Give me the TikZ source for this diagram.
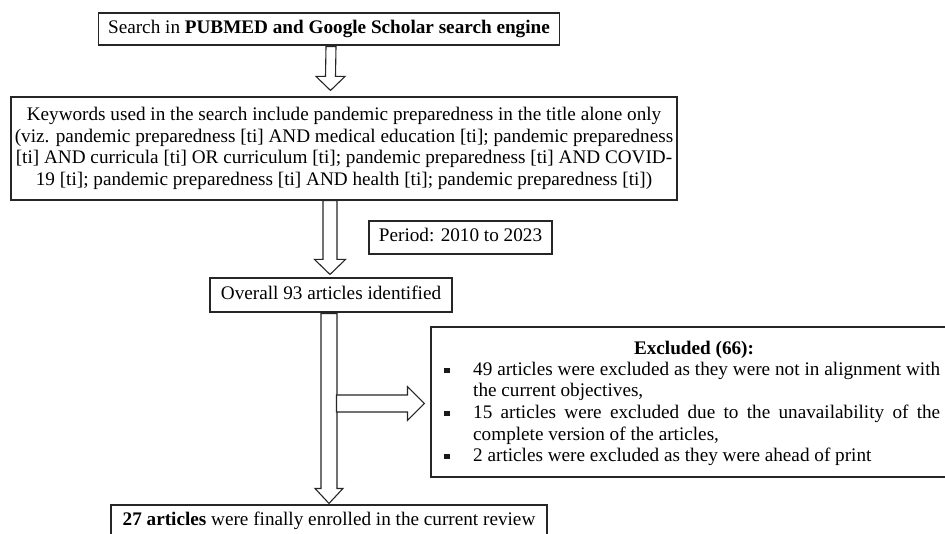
\documentclass[tikz,border=0pt]{standalone}
\usepackage{fontspec}
\setmainfont{Liberation Serif}
\usetikzlibrary{calc}
\tikzset{
  box/.style={draw=black!85, line width=1.1pt, fill=white, inner sep=0pt, align=center,
    font=\fontsize{19.2pt}{21.7pt}\selectfont},
  one/.style={text height=13.2pt, text depth=4.3pt},
  exl/.style={inner sep=0pt, anchor=base west, font=\fontsize{19.2pt}{21.7pt}\selectfont},
  blk/.style={draw=black!85, line width=1.1pt, fill=white, line join=miter},
}
\newcommand\blkdown[5]{%
  \draw[blk] ($(#1)+(-#3,0)$) -- ($(#2)+(-#3,-#5)$) -- ($(#2)+(-#4,-#5)$) -- (#2)
    -- ($(#2)+(#4,-#5)$) -- ($(#2)+(#3,-#5)$) -- ($(#1)+(#3,0)$) -- cycle;}
\newcommand\blkright[5]{%
  \draw[blk] ($(#1)+(0,-#3)$) -- ($(#2)+(-#5,-#3)$) -- ($(#2)+(-#5,-#4)$) -- (#2)
    -- ($(#2)+(-#5,#4)$) -- ($(#2)+(-#5,#3)$) -- ($(#1)+(0,#3)$) -- cycle;}
\newcommand\sqb[1]{\fill[black!90] ($(#1.base west)+(-29,-7.6)$) rectangle ++(5.5,5.5);}
\begin{document}
\begin{tikzpicture}[x=1pt,y=-1pt]
\useasboundingbox (0,0) rectangle (945,534);
\clip (0,0) rectangle (945,534);

\node[box, one, minimum width=461pt, minimum height=32pt] (b1) at (329,29)
  {Search in \textbf{PUBMED and Google Scholar search engine}};
\node[box, minimum width=666pt, minimum height=103pt] (b2) at (344,148.5)
  {Keywords used in the search include pandemic preparedness in the title alone only\\
   (viz. pandemic preparedness [ti] AND medical education [ti]; pandemic preparedness\\
   {[}ti] AND curricula [ti] OR curriculum [ti]; pandemic preparedness [ti] AND COVID-\\
   19 [ti]; pandemic preparedness [ti] AND health [ti]; pandemic preparedness [ti])};
\node[box, one, minimum width=183pt, minimum height=33pt] (per) at (460.5,237.5)
  {Period: 2010 to 2023};
\node[box, one, minimum width=242pt, minimum height=34pt] (b3) at (331,295)
  {Overall 93 articles identified};
\node[box, minimum width=521pt, minimum height=150pt] (exc) at (691.5,402) {};
\node[exl, anchor=base] (ext) at (694,354.5) {\textbf{Excluded (66):}};
\node[exl] (ex1) at (473,375.5)
  {\makebox[467pt][s]{49 articles were excluded as they were not in alignment with}};
\node[exl] (ex2) at (473,397) {the current objectives,};
\node[exl] (ex3) at (473,418.5)
  {\makebox[467pt][s]{15 articles were excluded due to the unavailability of the}};
\node[exl] (ex4) at (473,440) {complete version of the articles,};
\node[exl] (ex5) at (473,461.5) {2 articles were excluded as they were ahead of print};
\sqb{ex1}
\sqb{ex3}
\sqb{ex5}
\node[box, one, minimum width=436pt, minimum height=33pt] (b4) at (329,521.5)
  {\textbf{27 articles} were finally enrolled in the current review};

\coordinate (a1s) at ($(b1.south)+(2,1)$);
\coordinate (a1e) at ($(b2.north)+(-13.5,-6)$);
\coordinate (a2s) at ($(b2.south)+(-14,0)$);
\coordinate (a2e) at ($(b3.north)+(-1,-3)$);
\coordinate (a3s) at ($(b3.south)+(-2,1)$);
\coordinate (a3e) at ($(b4.north)+(0,-1)$);
\coordinate (a4s) at ($(exc.west)+(-94,1.5)$);
\coordinate (a4e) at ($(exc.west)+(-6,1.5)$);

\blkdown{a1s}{a1e}{5}{14.5}{14}
\blkdown{a2s}{a2e}{7}{15.5}{15}
\blkdown{a3s}{a3e}{8}{14}{15}
\blkright{a4s}{a4e}{8.5}{17}{17}
\end{tikzpicture}
\end{document}
